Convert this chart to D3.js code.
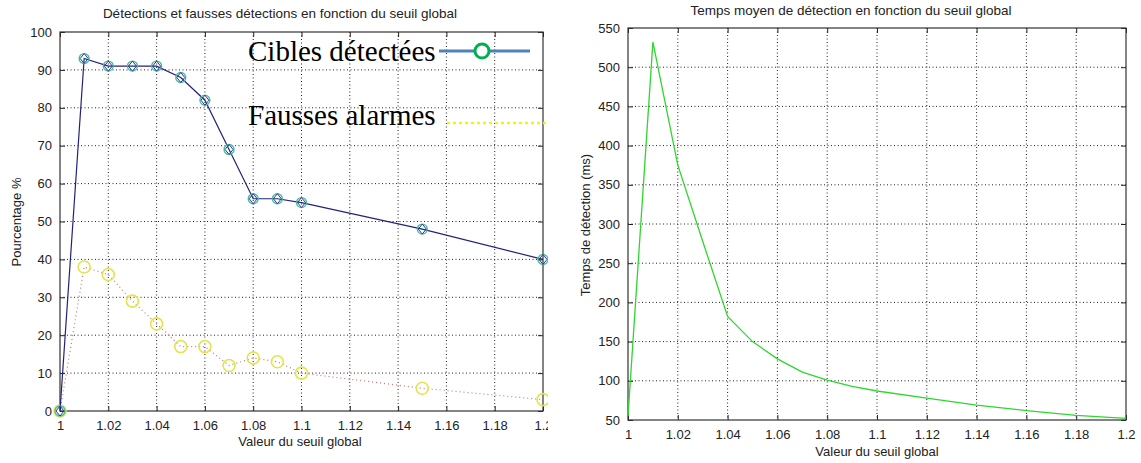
<!DOCTYPE html>
<html>
<head>
<meta charset="utf-8">
<script src="https://cdn.jsdelivr.net/npm/d3@7"></script>
<style>
  body { margin: 0; background: #fff; }
  svg { display: block; }
  .tick text { font-family: "Liberation Sans", Arial, sans-serif; font-size: 13px; fill: #222; }
  .lbl { font-family: "Liberation Sans", Arial, sans-serif; fill: #222; }
  .grid line { stroke: #222; stroke-dasharray: 1,2.5; stroke-width: 1; }
</style>
</head>
<body>
<svg id="chart" width="1141" height="463"></svg>
<script>
// left chart data
var seuil = [1, 1.01, 1.02, 1.03, 1.04, 1.05, 1.06, 1.07, 1.08, 1.09, 1.1, 1.15, 1.2];
var cibles = [0, 93, 91, 91, 91, 88, 82, 69, 56, 56, 55, 48, 40];
var fausses = [0, 38, 36, 29, 23, 17, 17, 12, 14, 13, 10, 6, 3];

// right chart data
var seuilT = [1, 1.01, 1.02, 1.03, 1.04, 1.05, 1.06, 1.07, 1.08, 1.09, 1.1, 1.12, 1.14, 1.16, 1.18, 1.2];
var tempsMs = [55, 532, 375, 278, 182, 150, 128, 111, 101, 93, 87, 78, 69, 62, 56, 52];

var xTicks = [1, 1.02, 1.04, 1.06, 1.08, 1.1, 1.12, 1.14, 1.16, 1.18, 1.2];
var yTicksLeft = [0, 10, 20, 30, 40, 50, 60, 70, 80, 90, 100];
var yTicksRight = [50, 100, 150, 200, 250, 300, 350, 400, 450, 500, 550];

var svg = d3.select("#chart");

svg.append("clipPath").attr("id", "leftClip")
  .append("rect").attr("x", 0).attr("y", 0).attr("width", 548).attr("height", 463);

function drawFrame(g, x, y, xt, yt, left, right, top, bottom) {
  // grid
  var grid = g.append("g").attr("class", "grid");
  grid.selectAll(".gx").data(xt.slice(1, -1)).enter().append("line")
    .attr("x1", function(d) { return x(d); }).attr("x2", function(d) { return x(d); })
    .attr("y1", top).attr("y2", bottom);
  grid.selectAll(".gy").data(yt.slice(1, -1)).enter().append("line")
    .attr("x1", left).attr("x2", right)
    .attr("y1", function(d) { return y(d); }).attr("y2", function(d) { return y(d); });

  // axes with inward ticks
  var fmt = function(d) { return String(+d.toFixed(2)); };
  g.append("g").attr("transform", "translate(0," + bottom + ")")
    .call(d3.axisBottom(x).tickValues(xt).tickFormat(fmt).tickSizeInner(-5).tickSizeOuter(0).tickPadding(10))
    .call(function(a) { a.select(".domain").remove(); a.selectAll("line").attr("stroke", "#222"); });
  g.append("g").attr("transform", "translate(" + left + ",0)")
    .call(d3.axisLeft(y).tickValues(yt).tickSizeInner(-5).tickSizeOuter(0).tickPadding(8))
    .call(function(a) { a.select(".domain").remove(); a.selectAll("line").attr("stroke", "#222"); });
  g.append("g").attr("transform", "translate(0," + top + ")")
    .call(d3.axisTop(x).tickValues(xt).tickFormat("").tickSizeInner(-5).tickSizeOuter(0))
    .call(function(a) { a.select(".domain").remove(); a.selectAll("line").attr("stroke", "#222"); });
  g.append("g").attr("transform", "translate(" + right + ",0)")
    .call(d3.axisRight(y).tickValues(yt).tickFormat("").tickSizeInner(-5).tickSizeOuter(0))
    .call(function(a) { a.select(".domain").remove(); a.selectAll("line").attr("stroke", "#222"); });

  g.append("rect").attr("x", left).attr("y", top)
    .attr("width", right - left).attr("height", bottom - top)
    .attr("fill", "none").attr("stroke", "#333").attr("stroke-width", 1.2);
}

// ---------- left chart ----------
var L = { left: 60, right: 543, top: 32, bottom: 411 };
var gl = svg.append("g").attr("clip-path", "url(#leftClip)");
var xl = d3.scaleLinear().domain([1, 1.2]).range([L.left, L.right]);
var yl = d3.scaleLinear().domain([0, 100]).range([L.bottom, L.top]);

drawFrame(gl, xl, yl, xTicks, yTicksLeft, L.left, L.right, L.top, L.bottom);

var lineL = d3.line().x(function(d) { return xl(d[0]); }).y(function(d) { return yl(d[1]); });

gl.append("path").datum(d3.zip(seuil, fausses))
  .attr("d", lineL).attr("fill", "none")
  .attr("stroke", "#c07a70").attr("stroke-width", 1.2).attr("stroke-dasharray", "1,3");
gl.selectAll(".fa").data(d3.zip(seuil, fausses)).enter().append("circle")
  .attr("cx", function(d) { return xl(d[0]); }).attr("cy", function(d) { return yl(d[1]); })
  .attr("r", 6).attr("fill", "none").attr("stroke", "#e4e44a").attr("stroke-width", 1.6);

gl.append("path").datum(d3.zip(seuil, cibles))
  .attr("d", lineL).attr("fill", "none")
  .attr("stroke", "#22227a").attr("stroke-width", 1.2);
var mk = gl.selectAll(".ci").data(d3.zip(seuil, cibles)).enter().append("g")
  .attr("transform", function(d) { return "translate(" + xl(d[0]) + "," + yl(d[1]) + ")"; });
mk.append("circle").attr("r", 5).attr("fill", "none").attr("stroke", "#4cb8a4").attr("stroke-width", 1.3);
mk.append("path").attr("d", "M0,-5L4,0L0,5L-4,0Z").attr("fill", "none").attr("stroke", "#22408a").attr("stroke-width", 1);

gl.append("text").attr("class", "lbl").attr("x", 280).attr("y", 18)
  .attr("text-anchor", "middle").attr("font-size", 13.5)
  .text("Détections et fausses détections en fonction du seuil global");
gl.append("text").attr("class", "lbl").attr("x", 300).attr("y", 446)
  .attr("text-anchor", "middle").attr("font-size", 13)
  .text("Valeur du seuil global");
gl.append("text").attr("class", "lbl")
  .attr("transform", "translate(21,222) rotate(-90)")
  .attr("text-anchor", "middle").attr("font-size", 13)
  .text("Pourcentage %");

// legend
var leg = gl.append("g").attr("font-family", "'Liberation Serif', 'Times New Roman', serif").attr("font-size", 29).attr("fill", "#000");
leg.append("text").attr("x", 248).attr("y", 61).text("Cibles détectées");
leg.append("text").attr("x", 248).attr("y", 125).text("Fausses alarmes");
leg.append("line").attr("x1", 439).attr("x2", 530).attr("y1", 51).attr("y2", 51)
  .attr("stroke", "#4f81bd").attr("stroke-width", 3);
leg.append("circle").attr("cx", 482).attr("cy", 51).attr("r", 7)
  .attr("fill", "#fff").attr("stroke", "#00b050").attr("stroke-width", 3);
leg.append("line").attr("x1", 447).attr("x2", 552).attr("y1", 123).attr("y2", 123)
  .attr("stroke", "#f5f500").attr("stroke-width", 2.5).attr("stroke-dasharray", "3,3");

// ---------- right chart ----------
var R = { left: 628, right: 1126, top: 28, bottom: 420 };
var gr = svg.append("g");
var xr = d3.scaleLinear().domain([1, 1.2]).range([R.left, R.right]);
var yr = d3.scaleLinear().domain([50, 550]).range([R.bottom, R.top]);

drawFrame(gr, xr, yr, xTicks, yTicksRight, R.left, R.right, R.top, R.bottom);

gr.append("path").datum(d3.zip(seuilT, tempsMs))
  .attr("d", d3.line().x(function(d) { return xr(d[0]); }).y(function(d) { return yr(d[1]); }))
  .attr("fill", "none").attr("stroke", "#2fd62f").attr("stroke-width", 1.3);

gr.append("text").attr("class", "lbl").attr("x", 851).attr("y", 15)
  .attr("text-anchor", "middle").attr("font-size", 13.5)
  .text("Temps moyen de détection en fonction du seuil global");
gr.append("text").attr("class", "lbl").attr("x", 877).attr("y", 456)
  .attr("text-anchor", "middle").attr("font-size", 13)
  .text("Valeur du seuil global");
gr.append("text").attr("class", "lbl")
  .attr("transform", "translate(590,225) rotate(-90)")
  .attr("text-anchor", "middle").attr("font-size", 13)
  .text("Temps de détection (ms)");
</script>
</body>
</html>
